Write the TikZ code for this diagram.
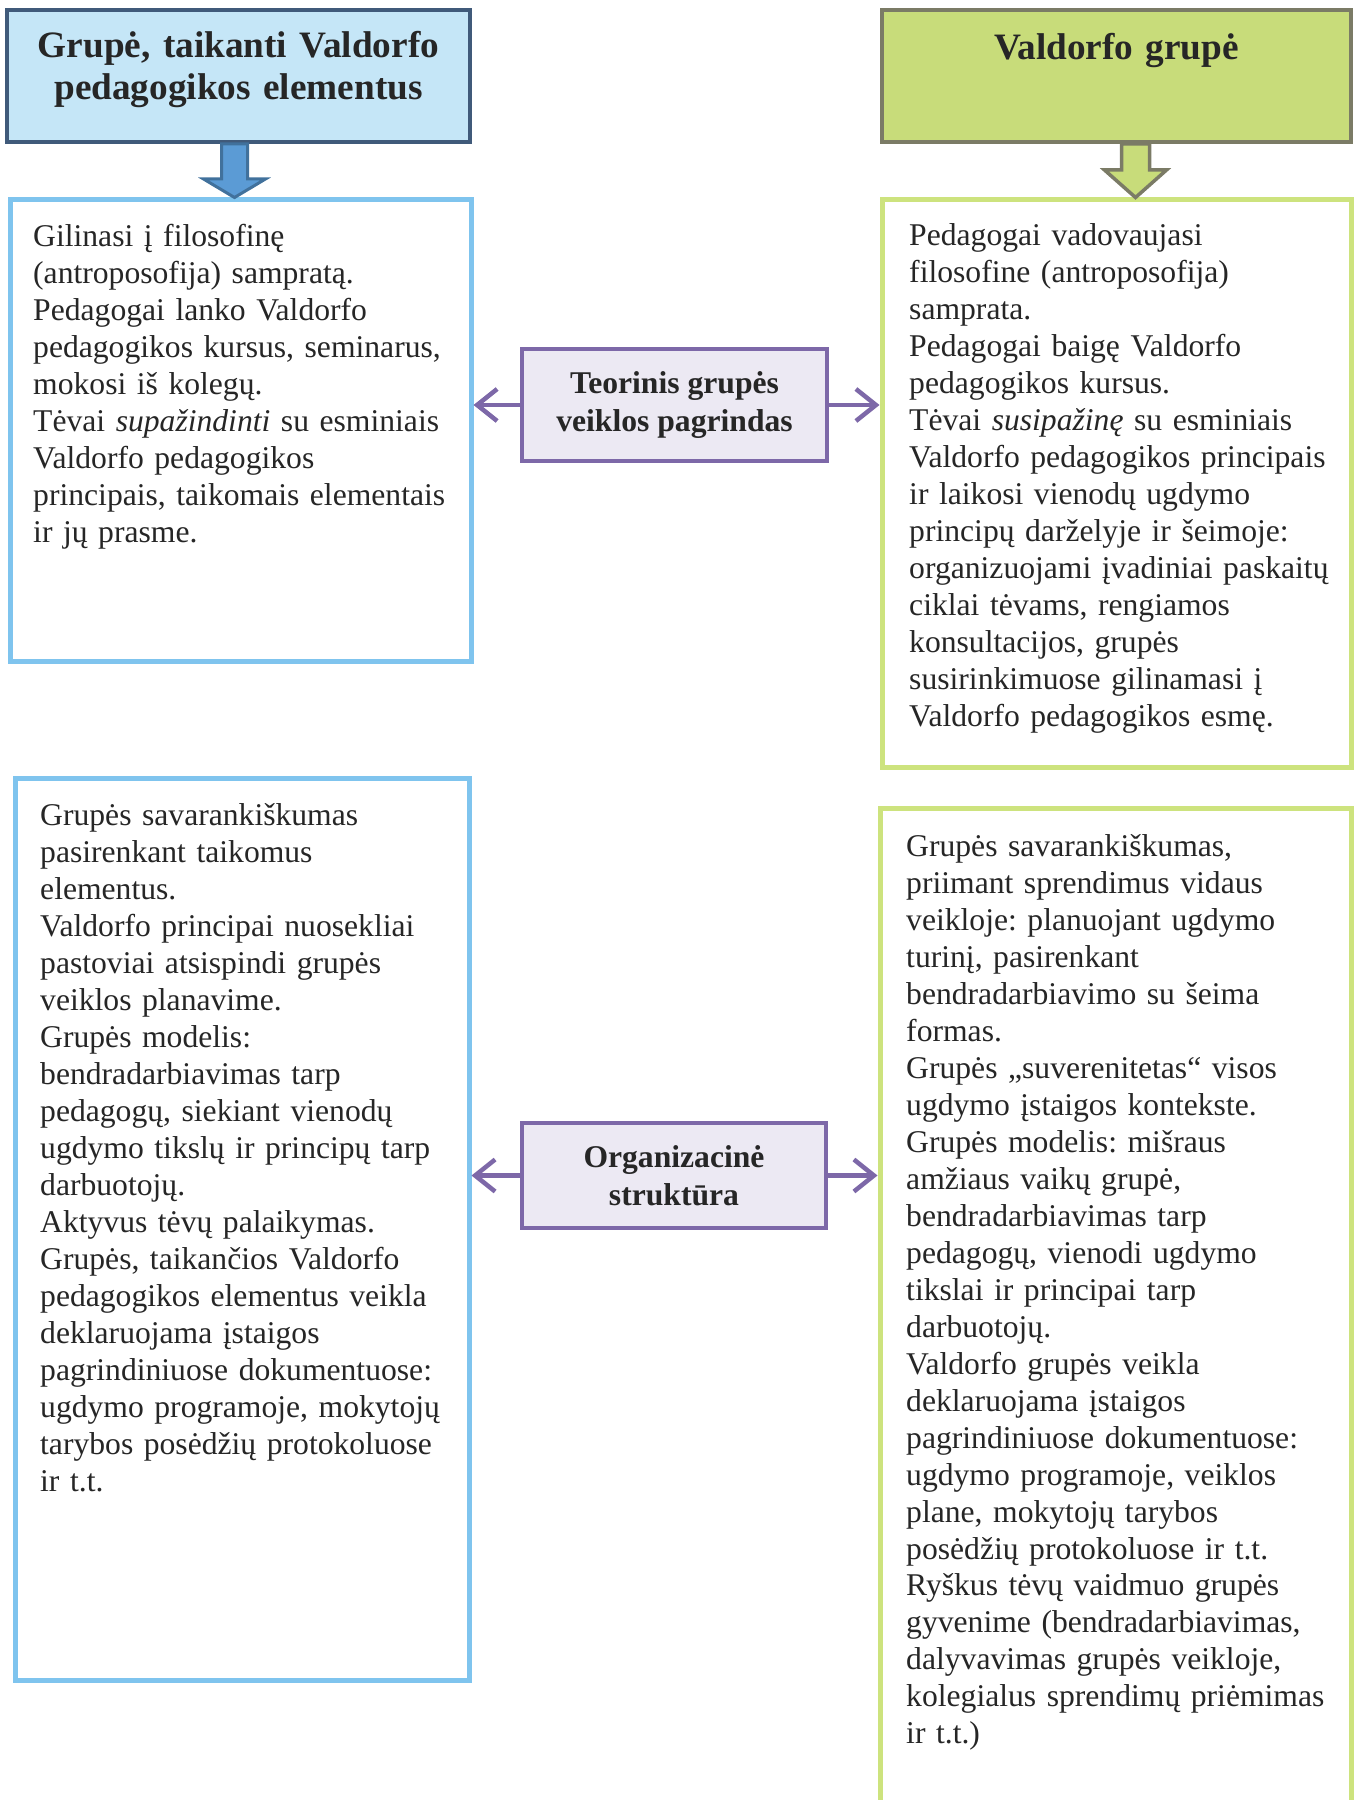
\documentclass[tikz,border=0pt]{standalone}
\usepackage{fontspec}
\setmainfont{Liberation Serif}
\usetikzlibrary{arrows.meta,calc}
\frenchspacing

\definecolor{headblue}{HTML}{C5E6F7}
\definecolor{headblueline}{HTML}{405A7A}
\definecolor{arrowblue}{HTML}{5B9BD5}
\definecolor{arrowblueline}{HTML}{41719C}
\definecolor{frameblue}{HTML}{7FC4EE}
\definecolor{headgreen}{HTML}{C8DC7A}
\definecolor{headgreenline}{HTML}{7B7B66}
\definecolor{framegreen}{HTML}{CDE37E}
\definecolor{midfill}{HTML}{ECE9F3}
\definecolor{midline}{HTML}{7D68A8}
\definecolor{txt}{HTML}{262626}

\begin{document}
\begin{tikzpicture}[x=0.1mm,y=-0.1mm,
	head/.style={draw, line width=0.4mm, inner sep=0pt},
	frame/.style={draw, line width=0.5mm, inner sep=0pt, fill=white},
	midbox/.style={draw=midline, fill=midfill, line width=0.4mm, inner sep=0pt, align=center, text=txt, font=\bfseries\fontsize{9}{10.7}\selectfont},
	title/.style={anchor=base, inner sep=0pt, text width=46mm, align=center, text=txt, font=\bfseries\fontsize{10.6}{11.9}\selectfont},
	body/.style={anchor=base west, inner sep=0pt, text width=44mm, align=left, text=txt, font=\fontsize{9.0}{10.52}\selectfont},
	linkarrow/.style={draw=midline, line width=0.45mm, -{Straight Barb[length=2mm,width=3.2mm]}}
]

\useasboundingbox (0,0) rectangle (1361,1800);

% headers
\node[head, draw=headblueline, fill=headblue, minimum width=46.3mm, minimum height=13.2mm] (hl) at (238.5,76) {};
\node[head, draw=headgreenline, fill=headgreen, minimum width=46.9mm, minimum height=13.2mm] (hr) at (1116.5,76) {};
\node[title] (hlt) at ($(hl.north)+(0,50)$) {Grupė, taikanti Valdorfo\\pedagogikos elementus};
\node[title] (hrt) at ($(hr.north)+(0,52)$) {Valdorfo grupė};

% frames
\node[frame, draw=frameblue, minimum width=46.1mm, minimum height=46.1mm] (l1) at (240.5,430.5) {};
\node[frame, draw=framegreen, minimum width=46.9mm, minimum height=56.7mm] (r1) at (1116.5,483.5) {};
\node[frame, draw=frameblue, minimum width=45.4mm, minimum height=90.2mm] (l2) at (242,1229) {};
\node[frame, draw=framegreen, minimum width=47.1mm, minimum height=102.2mm] (r2) at (1115.5,1319) {};

% block arrows
\draw[fill=arrowblue, draw=arrowblueline, line width=0.3mm, line join=miter]
	($(hl.south)+(-17,0)$) -- ++(0,35) -- ++(-18,0) -- ($(l1.north)+(-6,0)$)
	-- ($(hl.south)+(27,35)$) -- ++(-18,0) -- ++(0,-35) -- cycle;
\draw[fill=headgreen, draw=headgreenline, line width=0.35mm, line join=miter]
	($(hr.south)+(5,0)$) -- ++(0,26) -- ++(-17,0) -- ($(r1.north)+(19,0)$)
	-- ($(hr.south)+(50,26)$) -- ++(-17,0) -- ++(0,-26) -- cycle;

% middle boxes
\node[midbox, minimum width=30.5mm, minimum height=11.2mm] (m1) at (674.5,405) {Teorinis grupės\\veiklos pagrindas};
\node[midbox, minimum width=30.4mm, minimum height=10.5mm] (m2) at (674,1175.5) {Organizacinė\\struktūra};

\foreach \m/\l/\r in {m1/l1/r1, m2/l2/r2} {
	\draw[linkarrow] (\m.west) -- (\m.west -| \l.east);
	\draw[linkarrow] (\m.east) -- (\m.east -| \r.west);
}

% texts
\node[body] (l1t) at ($(l1.north west)+(25,49)$) {Gilinasi į filosofinę\\
(antroposofija) sampratą.\\
Pedagogai lanko Valdorfo\\
pedagogikos kursus, seminarus,\\
mokosi iš kolegų.\\
Tėvai \textit{supažindinti} su esminiais\\
Valdorfo pedagogikos\\
principais, taikomais elementais\\
ir jų prasme.};

\node[body] (r1t) at ($(r1.north west)+(29,48)$) {Pedagogai vadovaujasi\\
filosofine (antroposofija)\\
samprata.\\
Pedagogai baigę Valdorfo\\
pedagogikos kursus.\\
Tėvai \textit{susipažinę} su esminiais\\
Valdorfo pedagogikos principais\\
ir laikosi vienodų ugdymo\\
principų darželyje ir šeimoje:\\
organizuojami įvadiniai paskaitų\\
ciklai tėvams, rengiamos\\
konsultacijos, grupės\\
susirinkimuose gilinamasi į\\
Valdorfo pedagogikos esmę.};

\node[body] (l2t) at ($(l2.north west)+(27,50)$) {Grupės savarankiškumas\\
pasirenkant taikomus\\
elementus.\\
Valdorfo principai nuosekliai\\
pastoviai atsispindi grupės\\
veiklos planavime.\\
Grupės modelis:\\
bendradarbiavimas tarp\\
pedagogų, siekiant vienodų\\
ugdymo tikslų ir principų tarp\\
darbuotojų.\\
Aktyvus tėvų palaikymas.\\
Grupės, taikančios Valdorfo\\
pedagogikos elementus veikla\\
deklaruojama įstaigos\\
pagrindiniuose dokumentuose:\\
ugdymo programoje, mokytojų\\
tarybos posėdžių protokoluose\\
ir t.t.};

\node[body] (r2t) at ($(r2.north west)+(28,51)$) {Grupės savarankiškumas,\\
priimant sprendimus vidaus\\
veikloje: planuojant ugdymo\\
turinį, pasirenkant\\
bendradarbiavimo su šeima\\
formas.\\
Grupės „suverenitetas“ visos\\
ugdymo įstaigos kontekste.\\
Grupės modelis: mišraus\\
amžiaus vaikų grupė,\\
bendradarbiavimas tarp\\
pedagogų, vienodi ugdymo\\
tikslai ir principai tarp\\
darbuotojų.\\
Valdorfo grupės veikla\\
deklaruojama įstaigos\\
pagrindiniuose dokumentuose:\\
ugdymo programoje, veiklos\\
plane, mokytojų tarybos\\
posėdžių protokoluose ir t.t.\\
Ryškus tėvų vaidmuo grupės\\
gyvenime (bendradarbiavimas,\\
dalyvavimas grupės veikloje,\\
kolegialus sprendimų priėmimas\\
ir t.t.)};

\end{tikzpicture}
\end{document}
